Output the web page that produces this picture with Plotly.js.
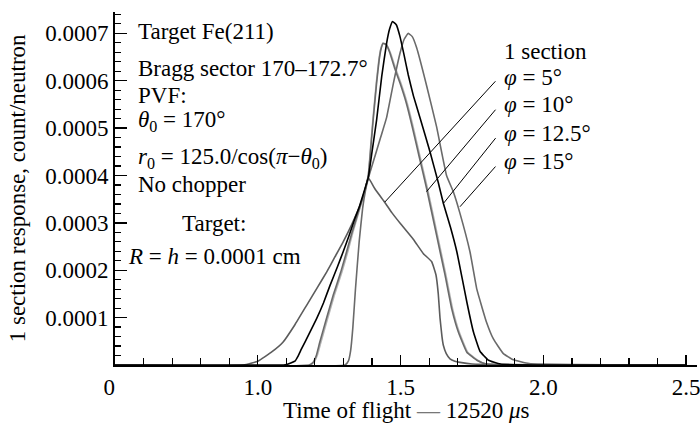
<!DOCTYPE html>
<html>
<head>
<meta charset="utf-8">
<script src="https://cdn.plot.ly/plotly-3.0.1.min.js"></script>
<style>html,body{margin:0;padding:0;background:#fff;}</style>
</head>
<body>
<div id="chart" style="width:700px;height:430px;"></div>
<script>
// ---- data ----
// phi = 5 deg (broad dark-gray curve)
const phi5X = [0.5, 0.95, 1.0, 1.05, 1.088, 1.13, 1.171, 1.21, 1.241, 1.27, 1.299, 1.33, 1.358, 1.375, 1.387, 1.41, 1.445, 1.47, 1.50, 1.545, 1.58, 1.609, 1.624, 1.632, 1.638, 1.645, 1.650, 1.66, 1.673, 1.69, 1.708, 1.75, 2.5];
const phi5Y = [0, 0, 0.000008, 0.000028, 0.000048, 0.000085, 0.000126, 0.000165, 0.000196, 0.000228, 0.00026, 0.000298, 0.000337, 0.000368, 0.000395, 0.000372, 0.000343, 0.000321, 0.000298, 0.000265, 0.000235, 0.000218, 0.00019, 0.00015, 0.0001, 0.00006, 0.000041, 0.000024, 0.000013, 0.000008, 0.0000055, 0.000002, 0];

// phi = 12.5 deg (black curve)
const phi125X = [0.5, 1.09, 1.101, 1.13, 1.142, 1.153, 1.18, 1.206, 1.23, 1.253, 1.28, 1.299, 1.32, 1.34, 1.355, 1.369, 1.387, 1.40, 1.416, 1.434, 1.451, 1.462, 1.472, 1.485, 1.498, 1.512, 1.527, 1.545, 1.568, 1.603, 1.632, 1.65, 1.675, 1.697, 1.715, 1.732, 1.755, 1.778, 1.808, 1.85, 2.5];
const phi125Y = [0, 0, 0.000001, 0.000008, 0.00002, 0.000034, 0.000066, 0.000098, 0.000131, 0.000168, 0.000209, 0.000239, 0.000274, 0.000309, 0.000333, 0.00036, 0.000396, 0.00045, 0.000517, 0.000609, 0.000679, 0.00071, 0.000725, 0.000718, 0.000693, 0.000655, 0.000612, 0.000568, 0.000522, 0.00045, 0.000385, 0.000341, 0.00029, 0.000239, 0.000185, 0.000133, 0.00007, 0.000029, 0.00001, 0.000002, 0];

// phi = 15 deg (gray curve, latest peak)
const phi15X = [0.5, 1.305, 1.317, 1.325, 1.333, 1.342, 1.355, 1.367, 1.377, 1.387, 1.41, 1.43, 1.451, 1.475, 1.498, 1.513, 1.527, 1.541, 1.556, 1.591, 1.626, 1.661, 1.685, 1.708, 1.743, 1.767, 1.785, 1.80, 1.825, 1.86, 1.895, 1.95, 2.5];
const phi15Y = [0, 0, 0.000008, 0.00003, 0.00008, 0.00016, 0.00026, 0.00033, 0.000368, 0.000394, 0.00044, 0.00048, 0.000522, 0.000595, 0.000658, 0.000688, 0.0007, 0.000693, 0.00067, 0.00059, 0.000503, 0.0004, 0.000365, 0.00032, 0.000239, 0.00016, 0.000122, 0.000092, 0.000055, 0.000024, 0.000011, 0.000003, 0];

// phi = 10 deg (gray curve)
const phi10X = [0.5, 1.18, 1.194, 1.205, 1.217, 1.24, 1.264, 1.29, 1.311, 1.33, 1.352, 1.37, 1.387, 1.396, 1.404, 1.416, 1.425, 1.432, 1.439, 1.45, 1.463, 1.48, 1.498, 1.52, 1.54, 1.565, 1.591, 1.626, 1.656, 1.679, 1.702, 1.732, 1.767, 1.80, 2.5];
const phi10Y = [0, 0, 0.000006, 0.00002, 0.000048, 0.000097, 0.000147, 0.000195, 0.000239, 0.00028, 0.000323, 0.000358, 0.0004, 0.00046, 0.000517, 0.000595, 0.000644, 0.000668, 0.000679, 0.000676, 0.000658, 0.000625, 0.000595, 0.000553, 0.000505, 0.00044, 0.000373, 0.000274, 0.000189, 0.000119, 0.00007, 0.000027, 0.00001, 0.000002, 0];

// 1 section (light-gray curve, nearly on top of phi = 10 deg)
const sec1X = [0.5, 1.183, 1.197, 1.208, 1.221, 1.244, 1.268, 1.294, 1.315, 1.333, 1.354, 1.371, 1.387, 1.395, 1.403, 1.415, 1.424, 1.431, 1.438, 1.45, 1.465, 1.483, 1.501, 1.523, 1.543, 1.568, 1.594, 1.629, 1.659, 1.682, 1.705, 1.735, 1.770, 1.80, 2.5];
const sec1Y = [0, 0, 0.000006, 0.00002, 0.000048, 0.000097, 0.000147, 0.000195, 0.000239, 0.00028, 0.000323, 0.000358, 0.0004, 0.00046, 0.000517, 0.000595, 0.000644, 0.000668, 0.000679, 0.000676, 0.000658, 0.000625, 0.000595, 0.000553, 0.000505, 0.00044, 0.000373, 0.000274, 0.000189, 0.000119, 0.00007, 0.000027, 0.00001, 0.000002, 0];

// axis ticks and titles
const xTickVals = [0.5, 1.0, 1.5, 2.0, 2.5];
const xTickText = ["0\u2002", "1.0", "1.5", "2.0", "2.5"];
const yTickVals = [0.0001, 0.0002, 0.0003, 0.0004, 0.0005, 0.0006, 0.0007];
const yTickText = ["0.0001", "0.0002", "0.0003", "0.0004", "0.0005", "0.0006", "0.0007"];
const xTitle = "Time of flight <span style=\"color:#777\">—</span> 12520 <i>μ</i>s";
const yTitle = "1 section response, count/neutron";

// curve labels
const curveLabels = ["1 section", "<i>φ</i> = 5°", "<i>φ</i> = 10°", "<i>φ</i> = 12.5°", "<i>φ</i> = 15°"];

// ---- chart ----
const FONT = "Liberation Serif";
const F = {family: FONT, size: 23, color: "#000"};
function line(x, y, name, color) {
  return {x: x, y: y, name: name, type: "scatter", mode: "lines",
          line: {color: color, width: 1.6, shape: "spline", smoothing: 0.35},
          hoverinfo: "skip"};
}
const traces = [
  line(sec1X, sec1Y, "1 section", "#b4b4b4"),
  line(phi10X, phi10Y, "φ = 10°", "#6a6a6a"),
  line(phi5X, phi5Y, "φ = 5°", "#5c5c5c"),
  line(phi15X, phi15Y, "φ = 15°", "#6a6a6a"),
  line(phi125X, phi125Y, "φ = 12.5°", "#000000")
];

const annotations = [];
function txt(x, y, text, anchor) {
  annotations.push({x: x, y: y, xref: "x", yref: "y", text: text, showarrow: false,
    xanchor: anchor || "left", yanchor: "middle", font: F});
}
txt(0.575, 0.000703, "Target Fe(211)");
txt(0.575, 0.000626, "Bragg sector 170–172.7°");
txt(0.575, 0.000568, "PVF:");
txt(0.575, 0.000516, "<i>θ</i><sub>0</sub> = 170°");
txt(0.575, 0.000437, "<i>r</i><sub>0</sub> = 125.0/cos(<i>π</i>−<i>θ</i><sub>0</sub>)");
txt(0.575, 0.000381, "No chopper");
txt(0.846, 0.000299, "Target:", "center");
txt(0.849, 0.000230, "<i>R</i> = <i>h</i> = 0.0001 cm", "center");
const labelY = [0.000661, 0.000607, 0.000549, 0.000489, 0.000429];
curveLabels.forEach(function (t, i) { txt(1.854, labelY[i], t); });

// axis titles as annotations (precise placement)
annotations.push({xref: "paper", yref: "paper", x: -0.167, y: 0.5, text: yTitle, textangle: -90,
  showarrow: false, xanchor: "center", yanchor: "middle", font: F});
annotations.push({xref: "paper", yref: "paper", x: 0.50, y: -0.128, text: xTitle,
  showarrow: false, xanchor: "center", yanchor: "middle", font: F});

// leader lines from labels to curves
const leaders = [
  [1.837, 0.000602, 1.445, 0.000344],
  [1.837, 0.000542, 1.591, 0.000366],
  [1.837, 0.000482, 1.650, 0.000341],
  [1.837, 0.000422, 1.708, 0.000334]
];
leaders.forEach(function (l) {
  annotations.push({x: l[2], y: l[3], ax: l[0], ay: l[1], xref: "x", yref: "y",
    axref: "x", ayref: "y", text: "", showarrow: true, arrowhead: 0,
    arrowwidth: 1, arrowcolor: "#000", standoff: 0, startstandoff: 0});
});

const layout = {
  width: 700, height: 430,
  margin: {l: 115, r: 3, t: 12, b: 65},
  paper_bgcolor: "#fff", plot_bgcolor: "#fff",
  showlegend: false,
  font: F,
  xaxis: {
    range: [0.5, 2.538], tickmode: "array", tickvals: xTickVals, ticktext: xTickText,
    ticks: "inside", ticklen: 10, tickwidth: 1.4, tickcolor: "#000",
    showline: true, linewidth: 2, linecolor: "#000", showgrid: false, zeroline: false,
    minor: {tick0: 0.5, dtick: 0.1, ticks: "inside", ticklen: 7, tickwidth: 1.2, tickcolor: "#000", showgrid: false},
    tickfont: F, ticklabeloverflow: "allow", automargin: false, fixedrange: true
  },
  yaxis: {
    range: [0, 0.000745], tickmode: "array", tickvals: yTickVals, ticktext: yTickText,
    ticks: "inside", ticklen: 12, tickwidth: 1.4, tickcolor: "#000",
    showline: true, linewidth: 2, linecolor: "#000", showgrid: false, zeroline: false,
    minor: {tick0: 0, dtick: 0.00002, ticks: "inside", ticklen: 6, tickwidth: 1.2, tickcolor: "#000", showgrid: false},
    tickfont: F, ticklabeloverflow: "allow", automargin: false, fixedrange: true
  },
  annotations: annotations
};

Plotly.newPlot("chart", traces, layout, {displayModeBar: false, staticPlot: true});
</script>
</body>
</html>
